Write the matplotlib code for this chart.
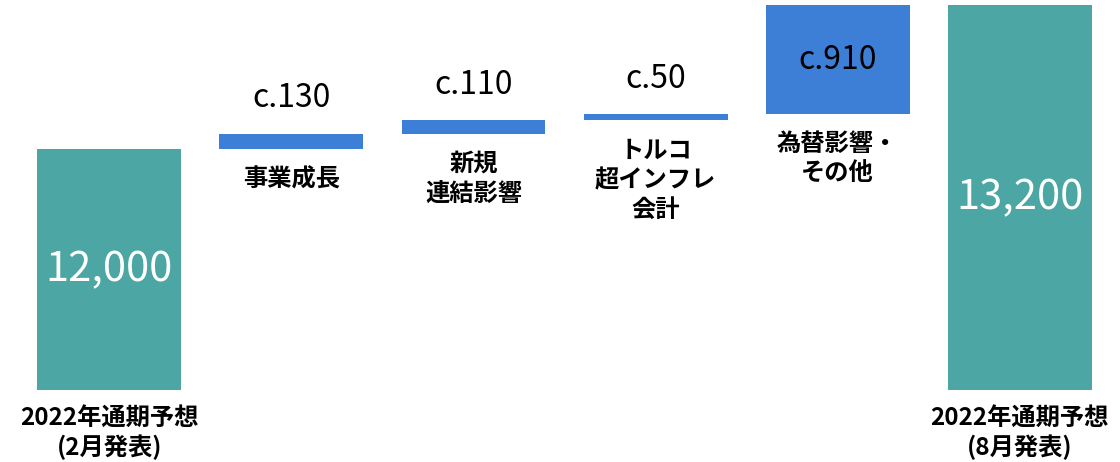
import matplotlib
matplotlib.use("Agg")
import matplotlib.pyplot as plt
import numpy as np

plt.rcParams["font.family"] = ["Noto Sans CJK JP", "DejaVu Sans"]

# data
labels = ["2022年通期予想\n(2月発表)", "事業成長", "新規\n連結影響",
          "トルコ\n超インフレ\n会計", "為替影響・\nその他", "2022年通期予想\n(8月発表)"]
start_value = 12000
deltas = [130, 110, 50, 910]
delta_texts = ["c.130", "c.110", "c.50", "c.910"]
end_value = 13200
total_texts = ["12,000", "13,200"]

BASE = 10000
TEAL = "#4ca6a3"
BLUE = "#3d7fd6"

fig = plt.figure(figsize=(11.2, 4.62), dpi=100)
ax = fig.add_axes([0, 0, 1, 1])
ax.set_xlim(-0.6, 5.55)
ax.set_ylim(9400, 13240)
ax.axis("off")

x = np.arange(len(labels))
width = 0.79

# total bars
ax.bar(x[0], start_value - BASE, bottom=BASE, width=width, color=TEAL)
ax.bar(x[-1], end_value - BASE, bottom=BASE, width=width, color=TEAL)

ax.text(x[0], (start_value + BASE) / 2, total_texts[0], ha="center", va="center",
        color="white", fontsize=30)
ax.text(x[-1], (end_value + BASE) / 2, total_texts[1], ha="center", va="center",
        color="white", fontsize=30)

for xi, lab in ((x[0], labels[0]), (x[-1], labels[-1])):
    ax.annotate(lab, (xi, BASE), xytext=(0, -12), textcoords="offset points",
                ha="center", va="top", fontsize=17.5, fontweight="bold",
                linespacing=1.2)

# floating delta bars
bottoms = start_value + np.concatenate([[0], np.cumsum(deltas)[:-1]])
for i, (d, b, t) in enumerate(zip(deltas, bottoms, delta_texts)):
    xi = x[i + 1]
    ax.bar(xi, d, bottom=b, width=width, color=BLUE)
    if d > 500:
        ax.text(xi, b + d / 2, t, ha="center", va="center", color="black",
                fontsize=23)
    else:
        ax.annotate(t, (xi, b + d), xytext=(0, 14), textcoords="offset points",
                    ha="center", va="bottom", fontsize=23)
    ax.annotate(labels[i + 1], (xi, b), xytext=(0, -13), textcoords="offset points",
                ha="center", va="top", fontsize=17.5, fontweight="bold",
                linespacing=1.3)

fig.savefig("out.png", dpi=100)
